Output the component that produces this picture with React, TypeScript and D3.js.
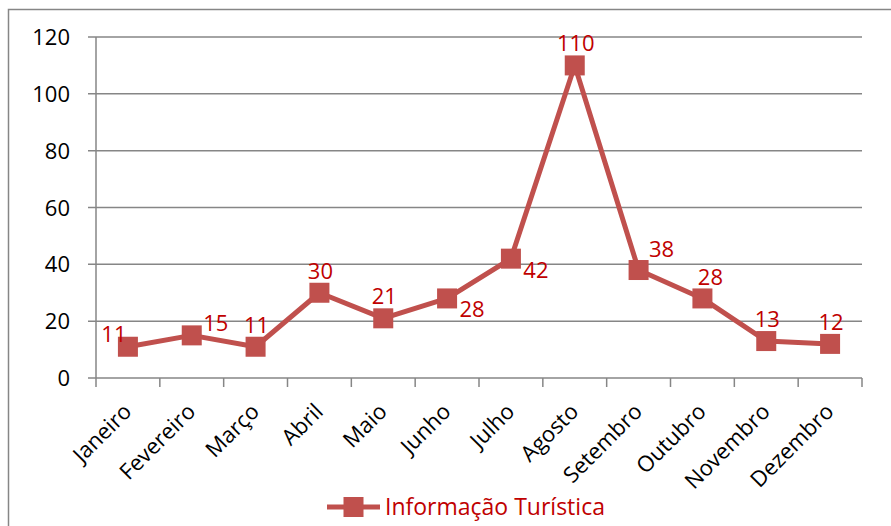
import * as d3 from "d3";

const months = [
  "Janeiro", "Fevereiro", "Março", "Abril", "Maio", "Junho",
  "Julho", "Agosto", "Setembro", "Outubro", "Novembro", "Dezembro",
];
const visitors = [11, 15, 11, 30, 21, 28, 42, 110, 38, 28, 13, 12];
const yTicks = [0, 20, 40, 60, 80, 100, 120];
const seriesName = "Informação Turística";
// where each value label sits relative to its marker
const labelSpots = [
  "leftUp", "rightUp", "above", "above", "above", "rightDown",
  "rightDown", "above", "upRight", "aboveRight", "above", "above",
];

const W = 891;
const H = 526;
const margin = { top: 37, right: 29, bottom: 148, left: 96 };
const lineColor = "#c0504d";
const labelColor = "#c00000";
const gridColor = "#868686";
const font = "'Open Sans', sans-serif";

const spotOffset: Record<string, [number, number]> = {
  above: [1, -22],
  leftUp: [-14, -13],
  rightUp: [24, -12],
  rightDown: [25, 11],
  upRight: [23, -21],
  aboveRight: [8, -21],
};

export default function App() {
  const x = d3.scaleBand<string>()
    .domain(months)
    .range([margin.left, W - margin.right]);
  const y = d3.scaleLinear()
    .domain([0, 120])
    .range([H - margin.bottom, margin.top]);

  const cx = (m: string) => (x(m) ?? 0) + x.bandwidth() / 2;
  const line = d3.line<number>()
    .x((_, i) => cx(months[i]))
    .y(d => y(d));

  const x0 = margin.left;
  const x1 = W - margin.right;
  const y0 = y(0);
  const tickXs = [...months.map(m => x(m) ?? 0), x1];

  return (
    <svg width={W} height={H} style={{ position: "absolute", left: 0, top: 0, background: "#fff" }}
      fontFamily={font}>
      <rect x={8.5} y={9.5} width={W + 20} height={H + 20} fill="#fff" stroke={gridColor} strokeWidth={1.5} />

      {/* gridlines + y labels */}
      {yTicks.map(t => (
        <g key={t}>
          <line x1={x0 - 8} x2={x1} y1={y(t)} y2={y(t)} stroke={gridColor} strokeWidth={1.5} />
          <text x={70} y={y(t) + 8} textAnchor="end" fontSize={22} fill="#000">{t}</text>
        </g>
      ))}

      {/* axes */}
      <line x1={x0} x2={x0} y1={margin.top} y2={y0} stroke={gridColor} strokeWidth={1.5} />
      {tickXs.map((tx, i) => (
        <line key={i} x1={tx} x2={tx} y1={y0} y2={y0 + 9} stroke={gridColor} strokeWidth={1.5} />
      ))}

      {months.map(m => (
        <text key={m} transform={`translate(${cx(m) + 5},${y0 + 35}) rotate(-45)`}
          textAnchor="end" fontSize={22} fill="#000">{m}</text>
      ))}

      {/* series */}
      <path d={line(visitors) ?? ""} fill="none" stroke={lineColor} strokeWidth={5} strokeLinejoin="round" />
      {visitors.map((v, i) => (
        <rect key={i} x={cx(months[i]) - 10} y={y(v) - 10} width={20} height={20} fill={lineColor} />
      ))}
      {visitors.map((v, i) => {
        const [dx, dy] = spotOffset[labelSpots[i]];
        return (
          <text key={i} x={cx(months[i]) + dx} y={y(v) + dy + 8} textAnchor="middle"
            fontSize={22} fill={labelColor}>{v}</text>
        );
      })}

      {/* legend */}
      <g transform="translate(327,507)">
        <line x1={0} x2={53} y1={0} y2={0} stroke={lineColor} strokeWidth={5} />
        <rect x={16.5} y={-10} width={20} height={20} fill={lineColor} />
        <text x={58} y={8} fontSize={23} fill={labelColor}>{seriesName}</text>
      </g>
    </svg>
  );
}
